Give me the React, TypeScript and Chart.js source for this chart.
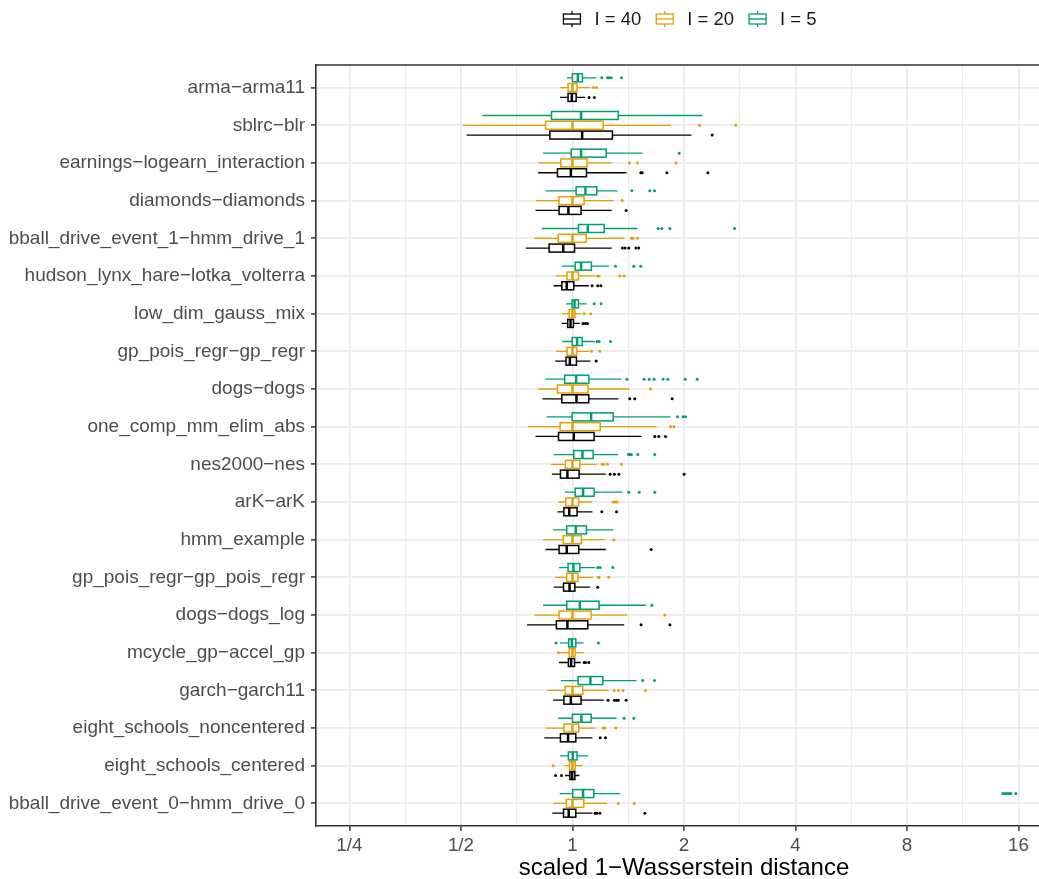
import React, { useEffect, useRef } from 'react';
import { Chart, registerables } from 'chart.js';

Chart.register(...registerables);

const FONT = '"Liberation Sans", Arimo, Arial, sans-serif';

// Models, top to bottom
const categories = [
  'arma−arma11',
  'sblrc−blr',
  'earnings−logearn_interaction',
  'diamonds−diamonds',
  'bball_drive_event_1−hmm_drive_1',
  'hudson_lynx_hare−lotka_volterra',
  'low_dim_gauss_mix',
  'gp_pois_regr−gp_regr',
  'dogs−dogs',
  'one_comp_mm_elim_abs',
  'nes2000−nes',
  'arK−arK',
  'hmm_example',
  'gp_pois_regr−gp_pois_regr',
  'dogs−dogs_log',
  'mcycle_gp−accel_gp',
  'garch−garch11',
  'eight_schools_noncentered',
  'eight_schools_centered',
  'bball_drive_event_0−hmm_drive_0',
];

// x axis (log2) tick values and labels
const xMajorTicks = [0.25, 0.5, 1, 2, 4, 8, 16];
const xMajorLabels = ['1/4', '1/2', '1', '2', '4', '8', '16'];
const xMin = 0.2031;
const xMax = 19.7;

// I = 40
const lo40 = [0.926, 0.518, 0.808, 0.795, 0.748, 0.889, 0.936, 0.898, 0.83, 0.795, 0.88, 0.911, 0.846, 0.89, 0.754, 0.92, 0.887, 0.839, 0.955, 0.882];
const q1_40 = [0.973, 0.869, 0.911, 0.92, 0.865, 0.936, 0.971, 0.961, 0.936, 0.917, 0.928, 0.948, 0.92, 0.946, 0.905, 0.975, 0.948, 0.928, 0.984, 0.946];
const med40 = [0.996, 1.062, 0.99, 0.975, 0.944, 0.965, 0.988, 0.984, 1.025, 1.008, 0.969, 0.98, 0.965, 0.982, 0.969, 0.992, 0.99, 0.973, 0.998, 0.977];
const q3_40 = [1.023, 1.282, 1.091, 1.055, 1.013, 1.008, 1.006, 1.025, 1.107, 1.144, 1.042, 1.029, 1.04, 1.015, 1.1, 1.013, 1.055, 1.021, 1.015, 1.021];
const hi40 = [1.082, 2.096, 1.399, 1.277, 1.277, 1.107, 1.047, 1.118, 1.331, 1.536, 1.23, 1.132, 1.23, 1.116, 1.379, 1.053, 1.215, 1.132, 1.044, 1.132];
const out40 = [
  [1.109, 1.146],
  [2.383],
  [1.529, 1.542, 1.798, 2.32],
  [1.396],
  [1.364, 1.387, 1.419, 1.483, 1.51],
  [1.13, 1.17, 1.193],
  [1.068, 1.084, 1.098],
  [1.159],
  [1.428, 1.473, 1.858],
  [1.668, 1.71, 1.783],
  [1.264, 1.298, 1.334, 2.002],
  [1.2, 1.315],
  [1.631],
  [1.17],
  [1.532, 1.832],
  [1.075, 1.084, 1.107],
  [1.248, 1.298, 1.315, 1.329, 1.396],
  [1.188, 1.228],
  [0.9, 0.934],
  [1.151, 1.163, 1.185, 1.568],
];

// I = 20
const lo20 = [0.926, 0.505, 0.808, 0.796, 0.788, 0.903, 0.936, 0.903, 0.808, 0.758, 0.874, 0.915, 0.833, 0.898, 0.788, 0.928, 0.854, 0.847, 0.95, 0.887];
const q1_20 = [0.973, 0.846, 0.93, 0.92, 0.915, 0.967, 0.98, 0.967, 0.911, 0.926, 0.957, 0.959, 0.944, 0.965, 0.92, 0.98, 0.955, 0.948, 0.982, 0.963];
const med20 = [1, 1, 1, 1, 1, 1, 1, 1, 1, 1, 1, 1, 1, 1, 1, 1, 1, 1, 1, 1];
const q3_20 = [1.029, 1.21, 1.095, 1.075, 1.089, 1.038, 1.015, 1.027, 1.102, 1.188, 1.047, 1.04, 1.057, 1.034, 1.123, 1.017, 1.066, 1.04, 1.017, 1.073];
const hi20 = [1.118, 1.839, 1.274, 1.29, 1.382, 1.151, 1.057, 1.111, 1.425, 1.686, 1.161, 1.13, 1.223, 1.137, 1.405, 1.073, 1.253, 1.154, 1.064, 1.24];
const out20 = [
  [1.139, 1.161],
  [2.202, 2.761],
  [1.425, 1.498, 1.905],
  [1.362],
  [1.443, 1.458, 1.498],
  [1.168, 1.18, 1.342, 1.379],
  [1.075, 1.121],
  [1.125, 1.185],
  [1.624],
  [1.839, 1.878],
  [1.203, 1.213, 1.243, 1.356],
  [1.288, 1.301, 1.32],
  [1.293],
  [1.175, 1.18, 1.253],
  [1.775],
  [0.917],
  [1.296, 1.331, 1.37, 1.574],
  [1.213, 1.223, 1.309],
  [0.887],
  [1.329, 1.467],
];

// I = 5
const lo5 = [0.965, 0.571, 0.833, 0.847, 0.826, 0.936, 0.961, 0.938, 0.844, 0.851, 0.889, 0.955, 0.887, 0.92, 0.833, 0.926, 0.93, 0.915, 0.926, 0.924];
const q1_5 = [1.0, 0.878, 0.992, 1.023, 1.038, 1.017, 0.998, 0.998, 0.953, 0.998, 1.008, 1.017, 0.965, 0.973, 0.965, 0.977, 1.036, 1.0, 0.975, 1.002];
const med5 = [1.034, 1.055, 1.055, 1.084, 1.1, 1.055, 1.013, 1.029, 1.023, 1.123, 1.064, 1.068, 1.021, 1.006, 1.047, 0.996, 1.118, 1.057, 1.002, 1.068];
const q3_5 = [1.064, 1.329, 1.233, 1.163, 1.218, 1.125, 1.038, 1.062, 1.107, 1.288, 1.137, 1.144, 1.091, 1.047, 1.18, 1.021, 1.208, 1.123, 1.029, 1.142];
const hi5 = [1.159, 2.244, 1.545, 1.323, 1.498, 1.256, 1.093, 1.151, 1.356, 1.839, 1.329, 1.364, 1.29, 1.151, 1.578, 1.071, 1.489, 1.315, 1.102, 1.345];
const out5 = [
  [1.2, 1.243, 1.256, 1.272, 1.356],
  [],
  [1.941],
  [1.446, 1.617, 1.665],
  [1.703, 1.742, 1.832, 2.738],
  [1.307, 1.464, 1.529],
  [1.144, 1.195],
  [1.166, 1.18, 1.266],
  [1.402, 1.561, 1.611, 1.661, 1.757, 1.809, 2.015, 2.171],
  [1.921, 1.99, 2.019],
  [1.416, 1.428, 1.443, 1.501, 1.668],
  [1.419, 1.514, 1.668],
  [],
  [1.17, 1.188, 1.285],
  [1.638],
  [0.903, 1.175],
  [1.548, 1.665],
  [1.379, 1.464],
  [],
  [14.51, 14.7, 14.88, 15.06, 15.25, 15.73],
];

const groupLabels = ['I = 40', 'I = 20', 'I = 5'];
const groupColors = ['#000000', '#E69F00', '#009E73'];
// vertical dodge within each category (category units, axis reversed)
const groupOffsets = [0.26, 0, -0.26];

const groups = [
  { lo: lo40, q1: q1_40, med: med40, q3: q3_40, hi: hi40, out: out40 },
  { lo: lo20, q1: q1_20, med: med20, q3: q3_20, hi: hi20, out: out20 },
  { lo: lo5, q1: q1_5, med: med5, q3: q3_5, hi: hi5, out: out5 },
].map((g, k) => ({ ...g, label: groupLabels[k], color: groupColors[k], offset: groupOffsets[k] }));

// all tick positions: majors plus geometric midpoints (minor grid)
const xTicks: { value: number; major: boolean }[] = [];
xMajorTicks.forEach((v, i) => {
  xTicks.push({ value: v, major: true });
  if (i < xMajorTicks.length - 1) xTicks.push({ value: Math.sqrt(v * xMajorTicks[i + 1]), major: false });
});

const boxPlugin = {
  id: 'boxWhiskers',
  beforeDatasetsDraw(chart: any) {
    const { ctx, chartArea, scales } = chart;
    const x = scales.x;
    const y = scales.y;
    const halfH = Math.abs(y.getPixelForValue(0.106) - y.getPixelForValue(0));
    ctx.save();
    ctx.beginPath();
    ctx.rect(chartArea.left, chartArea.top, chartArea.right - chartArea.left, chartArea.bottom - chartArea.top);
    ctx.clip();
    groups.forEach((g) => {
      categories.forEach((_, i) => {
        const yc = y.getPixelForValue(i + g.offset);
        const xl = x.getPixelForValue(g.lo[i]);
        const x1 = x.getPixelForValue(g.q1[i]);
        const xm = x.getPixelForValue(g.med[i]);
        const x3 = x.getPixelForValue(g.q3[i]);
        const xh = x.getPixelForValue(g.hi[i]);
        ctx.strokeStyle = g.color;
        ctx.lineWidth = 1.3;
        ctx.beginPath();
        ctx.moveTo(xl, yc);
        ctx.lineTo(x1, yc);
        ctx.moveTo(x3, yc);
        ctx.lineTo(xh, yc);
        ctx.stroke();
        ctx.fillStyle = '#ffffff';
        ctx.fillRect(x1, yc - halfH, x3 - x1, 2 * halfH);
        ctx.lineWidth = 1.5;
        ctx.strokeRect(x1, yc - halfH, x3 - x1, 2 * halfH);
        ctx.lineWidth = 2.5;
        ctx.beginPath();
        ctx.moveTo(xm, yc - halfH);
        ctx.lineTo(xm, yc + halfH);
        ctx.stroke();
      });
    });
    ctx.restore();
  },
  afterDraw(chart: any) {
    const { ctx, chartArea } = chart;
    ctx.save();
    // panel frame (top and right sides)
    ctx.strokeStyle = '#333333';
    ctx.lineWidth = 1.6;
    ctx.beginPath();
    ctx.moveTo(chartArea.left - 0.8, chartArea.top);
    ctx.lineTo(chartArea.right, chartArea.top);
    ctx.lineTo(chartArea.right, chartArea.bottom);
    ctx.stroke();

    // legend
    ctx.font = `18.5px ${FONT}`;
    const glyphW = 17;
    const gapText = 14;
    const gapItem = 15;
    const widths = groups.map((g) => ctx.measureText(g.label).width);
    const total = widths.reduce((s, w) => s + glyphW + gapText + w, 0) + gapItem * (groups.length - 1);
    const cy = 19;
    let xs = (chartArea.left + chartArea.right) / 2 + 6 - total / 2;
    groups.forEach((g, k) => {
      ctx.strokeStyle = g.color;
      ctx.lineWidth = 1.3;
      ctx.beginPath();
      ctx.moveTo(xs + glyphW / 2, cy - 8);
      ctx.lineTo(xs + glyphW / 2, cy + 8);
      ctx.stroke();
      ctx.fillStyle = '#ffffff';
      ctx.fillRect(xs, cy - 5, glyphW, 10);
      ctx.strokeRect(xs, cy - 5, glyphW, 10);
      ctx.beginPath();
      ctx.moveTo(xs, cy);
      ctx.lineTo(xs + glyphW, cy);
      ctx.stroke();
      ctx.fillStyle = '#1a1a1a';
      ctx.textAlign = 'left';
      ctx.textBaseline = 'middle';
      ctx.fillText(g.label, xs + glyphW + gapText, cy + 1);
      xs += glyphW + gapText + widths[k] + gapItem;
    });
    ctx.restore();
  },
};

export default function App() {
  const canvasRef = useRef<HTMLCanvasElement | null>(null);

  useEffect(() => {
    if (!canvasRef.current) return;
    const datasets = groups.map((g) => ({
      label: g.label,
      data: g.out.flatMap((vals, i) => vals.map((v) => ({ x: v, y: i + g.offset }))),
      pointRadius: 1.5,
      pointBorderWidth: 0,
      pointBackgroundColor: g.color,
      pointBorderColor: g.color,
    }));

    const chart = new Chart(canvasRef.current, {
      type: 'scatter',
      data: { datasets },
      plugins: [boxPlugin],
      options: {
        animation: false,
        responsive: true,
        maintainAspectRatio: false,
        events: [],
        layout: { padding: { top: 65, right: 4, bottom: 0, left: 0 } },
        plugins: {
          legend: { display: false },
          tooltip: { enabled: false },
        },
        scales: {
          x: {
            type: 'logarithmic',
            min: xMin,
            max: xMax,
            afterBuildTicks: (axis: any) => {
              axis.ticks = xTicks.map((t) => ({ value: t.value, major: t.major }));
            },
            afterFit: (axis: any) => {
              axis.height = 53;
            },
            ticks: {
              autoSkip: false,
              maxRotation: 0,
              minRotation: 0,
              padding: 4,
              color: '#4D4D4D',
              font: { family: FONT, size: 18.8 },
              callback: (_v: any, index: number) => (index % 2 === 0 ? xMajorLabels[index / 2] : ''),
            },
            grid: {
              color: '#EBEBEB',
              lineWidth: (c: any) => (c.index % 2 === 0 ? 1.8 : 1.1),
              tickColor: (c: any) => (c.index % 2 === 0 ? '#333333' : 'rgba(0,0,0,0)'),
              tickWidth: 1.5,
              tickLength: 5,
            },
            border: { display: true, color: '#333333', width: 1.6 },
            title: {
              display: true,
              text: 'scaled 1−Wasserstein distance',
              color: '#000000',
              font: { family: FONT, size: 24, lineHeight: 1 },
              padding: { top: 0, bottom: -1 },
            },
          },
          y: {
            type: 'linear',
            reverse: true,
            min: -0.6,
            max: categories.length - 0.4,
            afterBuildTicks: (axis: any) => {
              axis.ticks = categories.map((_, i) => ({ value: i }));
            },
            afterFit: (axis: any) => {
              axis.width = 316;
            },
            ticks: {
              autoSkip: false,
              padding: 6,
              color: '#4D4D4D',
              font: { family: FONT, size: 19 },
              callback: (v: any) => categories[Math.round(Number(v))] ?? '',
            },
            grid: {
              color: '#EBEBEB',
              lineWidth: 1.8,
              tickColor: '#333333',
              tickWidth: 1.5,
              tickLength: 5,
            },
            border: { display: true, color: '#333333', width: 1.6 },
          },
        },
      },
    });
    return () => chart.destroy();
  }, []);

  return (
    <div
      style={{
        position: 'fixed',
        left: 0,
        top: 0,
        width: 1039,
        height: 879,
        overflow: 'hidden',
        background: '#ffffff',
      }}
    >
      <div style={{ position: 'relative', width: 1056, height: 879 }}>
        <canvas ref={canvasRef} />
      </div>
    </div>
  );
}
